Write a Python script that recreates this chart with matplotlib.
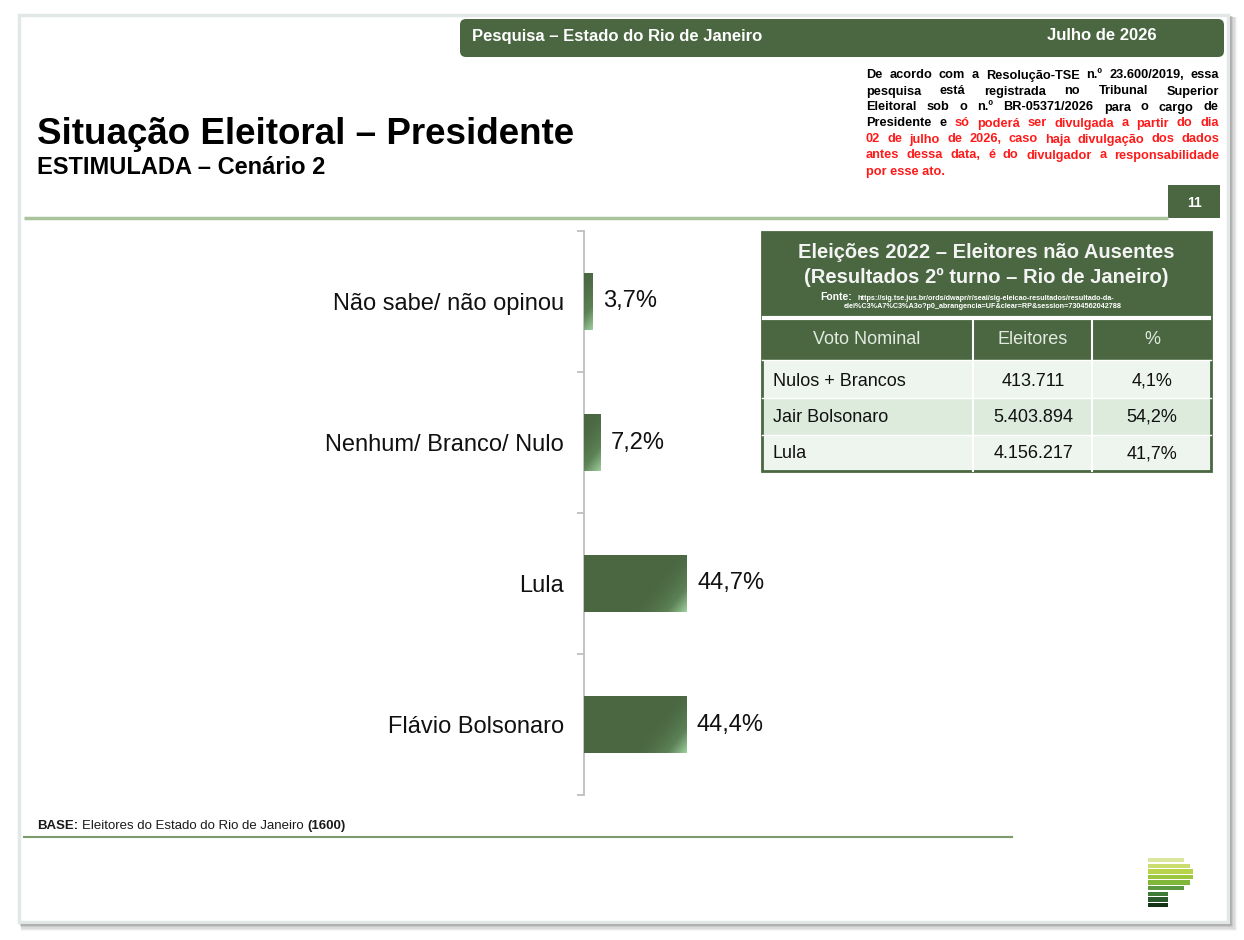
import matplotlib
matplotlib.use('Agg')
import matplotlib.pyplot as plt
from matplotlib.patches import Rectangle, FancyBboxPatch
from matplotlib.colors import LinearSegmentedColormap
import numpy as np

plt.rcParams['font.family'] = ['Liberation Sans', 'DejaVu Sans']

# chart data
categories = ['Não sabe/ não opinou', 'Nenhum/ Branco/ Nulo', 'Lula', 'Flávio Bolsonaro']
values = [3.7, 7.2, 44.7, 44.4]

# 2022 reference table
table_cols = ['Voto Nominal', 'Eleitores', '%']
table_names = ['Nulos + Brancos', 'Jair Bolsonaro', 'Lula']
table_votes = ['413.711', '5.403.894', '4.156.217']
table_pct = ['4,1%', '54,2%', '41,7%']

GREEN = '#4a6741'
RED = '#ff1a1a'
W, H = 1244, 940

fig = plt.figure(figsize=(W / 100, H / 100), dpi=100)
bg = fig.add_axes([0, 0, 1, 1])
bg.set_xlim(0, W)
bg.set_ylim(H, 0)
bg.axis('off')

# page with drop shadow
for d, a in [(7, 0.04), (6, 0.05), (5, 0.06), (4, 0.08), (3, 0.1), (2, 0.12)]:
    bg.add_patch(Rectangle((19 + d * 0.3, 15 + d * 0.3), 1209 + d, 907 + d, fc='black', ec='none', alpha=a))
bg.add_patch(Rectangle((19, 15), 1209, 907, fc='white', ec='#e2e8e8', lw=2.5))

# header band
bg.add_patch(FancyBboxPatch((460, 19), 764, 38, boxstyle='round,pad=0,rounding_size=6', fc=GREEN, ec='none'))
bg.text(472, 36, 'Pesquisa – Estado do Rio de Janeiro', color='white', fontsize=12, fontweight='bold', va='center')
bg.text(1102, 36, 'Julho de 2026', color='white', fontsize=12, fontweight='bold', va='center', ha='center')

# titles
bg.text(37, 144, 'Situação Eleitoral – Presidente', fontsize=26.5, fontweight='bold', color='black')
bg.text(37, 174, 'ESTIMULADA – Cenário 2', fontsize=17, fontweight='bold', color='black')

# page number and separator line
bg.plot([24, 1168], [218, 218], color='#a9c49c', lw=2.5, solid_capstyle='butt')
bg.add_patch(Rectangle((1168, 185), 52, 33, fc=GREEN, ec='none'))
bg.text(1194, 203, '11', color='white', fontsize=10, fontweight='bold', ha='center', va='center')

renderer = fig.canvas.get_renderer()


def text_width(s, **kw):
    t = bg.text(0, 0, s, **kw)
    w = t.get_window_extent(renderer).width
    t.remove()
    return w


# disclaimer block, justified
disc_kw = dict(fontsize=9.2, fontweight='bold')
disc_lines = [
    [('De acordo com a Resolução-TSE n.º 23.600/2019, essa', 'black')],
    [('pesquisa está registrada no Tribunal Superior', 'black')],
    [('Eleitoral sob o n.º BR-05371/2026 para o cargo de', 'black')],
    [('Presidente e', 'black'), ('só poderá ser divulgada a partir do dia', RED)],
    [('02 de julho de 2026, caso haja divulgação dos dados', RED)],
    [('antes dessa data, é do divulgador a responsabilidade', RED)],
    [('por esse ato.', RED)],
]
x_left, x_right = 866, 1219
for i, line in enumerate(disc_lines):
    y = 78.5 + i * 16
    words = [(w, c) for seg, c in line for w in seg.split()]
    if i == len(disc_lines) - 1:
        bg.text(x_left, y, ' '.join(w for w, _ in words), color=RED, va='baseline', **disc_kw)
        continue
    widths = [text_width(w, **disc_kw) for w, _ in words]
    gap = (x_right - x_left - sum(widths)) / (len(words) - 1)
    x = x_left
    for (w, c), wd in zip(words, widths):
        bg.text(x, y, w, color=c, va='baseline', **disc_kw)
        x += wd + gap

# reference table
tx0, tx1 = 762, 1211
bg.add_patch(Rectangle((tx0, 232), tx1 - tx0, 128, fc=GREEN, ec='none'))
row_tops = [360, 398, 435]
row_h = [38, 37, 36]
row_cols = ['#eef5ee', '#dcebdc', '#eef5ee']
for top, hh, c in zip(row_tops, row_h, row_cols):
    bg.add_patch(Rectangle((tx0, top), tx1 - tx0, hh, fc=c, ec='none'))
bg.plot([764, 1209], [318, 318], color='white', lw=3)
for xs in [973, 1092]:
    bg.plot([xs, xs], [320, 471], color='white', lw=1.5)
for ys in [360, 398, 435]:
    bg.plot([tx0, tx1], [ys, ys], color='white', lw=1)
bg.add_patch(Rectangle((tx0, 232), tx1 - tx0, 239, fc='none', ec=GREEN, lw=2))

bg.text(986, 253, 'Eleições 2022 – Eleitores não Ausentes', color='#f4f4f4', fontsize=14.5,
        fontweight='bold', ha='center', va='center')
bg.text(986, 277, '(Resultados 2º turno – Rio de Janeiro)', color='#f4f4f4', fontsize=14.5,
        fontweight='bold', ha='center', va='center')
bg.text(820, 297, 'Fonte:', color='white', fontsize=7.5, fontweight='bold', va='center')
bg.text(857, 298, 'https://sig.tse.jus.br/ords/dwapr/r/seai/sig-eleicao-resultados/resultado-da-',
        color='white', fontsize=5.2, fontweight='bold', va='center')
bg.text(983, 306.5, 'elei%C3%A7%C3%A3o?p0_abrangencia=UF&clear=RP&session=7304562042788',
        color='white', fontsize=5.2, fontweight='bold', va='center', ha='center')

col_x = [867, 1033, 1152]
for cx, name in zip(col_x, table_cols):
    bg.text(cx, 340, name, color='#e2eadf', fontsize=13, ha='center', va='center')
row_y = [381, 417, 454]
for ry, n, v, p in zip(row_y, table_names, table_votes, table_pct):
    bg.text(773, ry, n, color='#111111', fontsize=13, va='center')
    bg.text(col_x[1], ry, v, color='#111111', fontsize=13, va='center', ha='center')
    bg.text(col_x[2], ry, p, color='#111111', fontsize=13, va='center', ha='center')

# base note
base_runs = [('BASE:', 'bold'), ('Eleitores do Estado do Rio de Janeiro', 'normal'), ('(1600)', 'bold')]
sp = text_width('a a', fontsize=9.5) - text_width('aa', fontsize=9.5)
x = 37
for s, fw in base_runs:
    bg.text(x, 829, s, fontsize=9.5, fontweight=fw, color='#1a1a1a', va='baseline')
    x += text_width(s, fontsize=9.5, fontweight=fw) + sp
bg.plot([24, 1012], [837, 837], color='#7d9c6e', lw=1.5)

# logo
logo = [(36, '#dce79e'), (42, '#cadd6e'), (45, '#b7d44c'), (45, '#9dc63f'),
        (42, '#80b73b'), (36, '#5b9a40'), (20, '#3f7a36'), (20, '#2b5a2c'), (20, '#153315')]
for k, (lw_, c) in enumerate(logo):
    bg.add_patch(Rectangle((1148, 858 + k * 5.6), lw_, 4.4, fc=c, ec='none'))

# bar chart
ax = fig.add_axes([584 / W, 1 - 795 / H, (1000 - 584) / W, (795 - 231) / H])
ax.patch.set_alpha(0)
pos = np.arange(len(categories))
bars = ax.barh(pos, values, height=0.405, color=GREEN, zorder=2)
xmax = (1000 - 584) / 2.304
ax.set_xlim(0, xmax)
ax.set_ylim(len(categories) - 0.5, -0.5)
fig.canvas.draw()

cmap = LinearSegmentedColormap.from_list('g', [GREEN, '#5d8257', '#9fd09f'])
for b in bars:
    bb = b.get_window_extent(renderer)
    w, h = bb.width, bb.height
    X, Y = np.meshgrid(np.linspace(0, w, 160), np.linspace(0, h, 60))
    d = (X - w) + (Y - h) * 0.8
    t = np.clip(1 + d / 55, 0, 1) ** 1.6
    x0, y0 = b.get_x(), b.get_y()
    im = ax.imshow(t, cmap=cmap, vmin=0, vmax=1, aspect='auto', interpolation='bilinear',
                   extent=[x0, x0 + b.get_width(), y0 + b.get_height(), y0], zorder=3)
    im.set_clip_path(b)

for b, v in zip(bars, values):
    ax.annotate(f'{v:.1f}%'.replace('.', ','), (b.get_width(), b.get_y() + b.get_height() / 2),
                xytext=(7.5, 0), textcoords='offset points', va='center', ha='left',
                fontsize=17, color='#111111')

ax.set_xlim(0, xmax)
ax.set_ylim(len(categories) - 0.5, -0.5)
ax.set_yticks(pos)
ax.set_yticklabels(categories, fontsize=17, color='#111111')
ax.set_yticks(np.arange(len(categories) + 1) - 0.5, minor=True)
ax.tick_params(axis='y', which='major', length=0, pad=14.4)
ax.tick_params(axis='y', which='minor', length=5, width=1.3, color='#bfbfbf')
ax.set_xticks([])
for s in ['top', 'right', 'bottom']:
    ax.spines[s].set_visible(False)
ax.spines['left'].set_color('#bfbfbf')
ax.spines['left'].set_linewidth(1.3)

fig.savefig('out.png', dpi=100)
